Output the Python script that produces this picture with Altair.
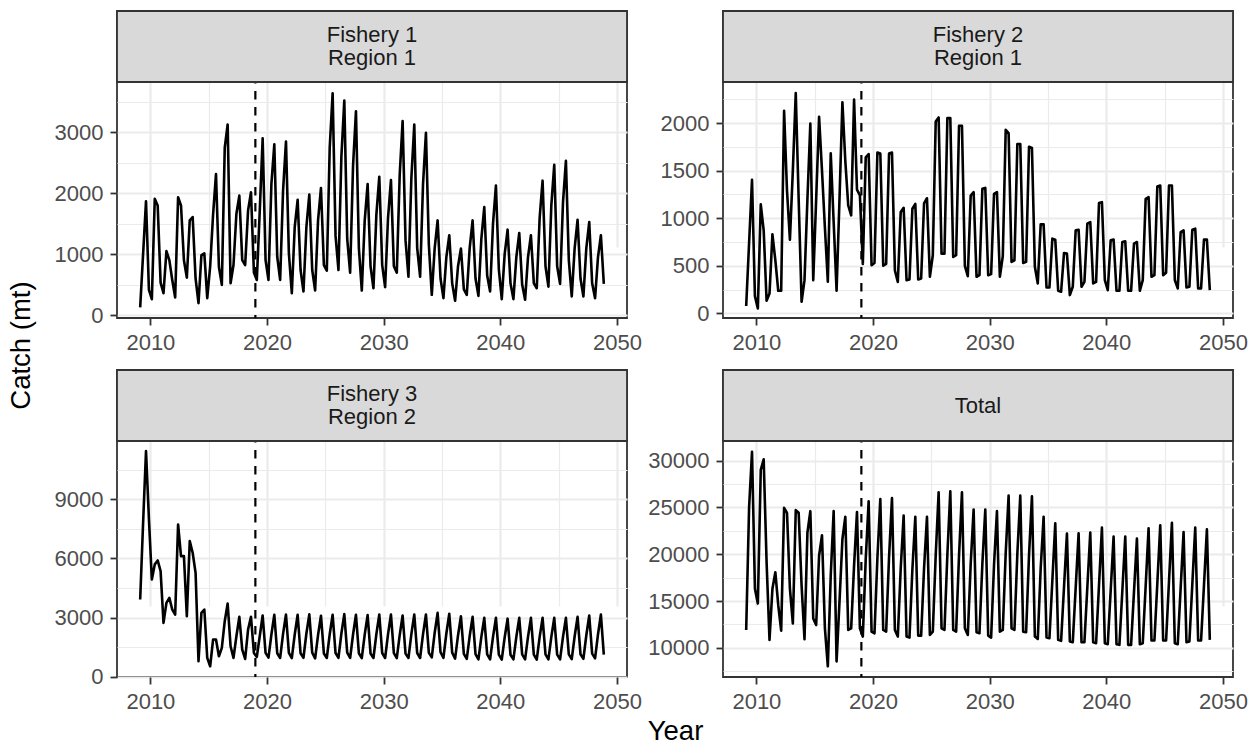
import altair as alt
import pandas as pd

# Quarterly catch (mt), 2009-2048, four values per year (Q1..Q4)
YEARS = list(range(2009, 2049))
QUARTERS = [1, 2, 3, 4]
PROJECTION_START = 2019

FISHERY1 = [
    125, 1000, 1870, 413,
    260, 1908, 1800, 533,
    359, 1049, 902, 576,
    288, 1935, 1800, 900,
    614, 1554, 1609, 600,
    196, 984, 1011, 277,
    800, 1650, 2315, 793,
    495, 2750, 3130, 522,
    821, 1663, 1962, 902,
    821, 1717, 2016, 700,
    576, 1700, 2902, 902,
    576, 2152, 2804, 957,
    576, 2043, 2848, 1011,
    359, 1446, 1891, 739,
    386, 1446, 1978, 739,
    402, 1554, 2087, 821,
    728, 2750, 3641, 1300,
    739, 2600, 3522, 1250,
    696, 2450, 3348, 1100,
    402, 1550, 2152, 800,
    440, 1650, 2272, 820,
    457, 1600, 2217, 800,
    696, 2300, 3185, 1230,
    630, 2250, 3130, 1100,
    630, 2150, 2995, 1150,
    332, 1100, 1554, 600,
    277, 950, 1310, 520,
    234, 800, 1092, 420,
    332, 1100, 1554, 600,
    315, 1250, 1772, 650,
    386, 1500, 2125, 750,
    261, 1000, 1402, 520,
    261, 950, 1348, 500,
    250, 950, 1310, 520,
    440, 1600, 2207, 800,
    467, 1800, 2467, 800,
    511, 1850, 2533, 900,
    304, 1100, 1565, 600,
    304, 1100, 1527, 520,
    277, 950, 1310, 511,
]

FISHERY2 = [
    77, 740, 1403, 181,
    52, 1145, 872, 133,
    209, 830, 558, 237,
    237, 2129, 1290, 775,
    1500, 2317, 1200, 122,
    349, 1200, 1996, 349,
    1200, 2066, 1500, 900,
    332, 1682, 960, 237,
    1200, 2219, 1600, 1134,
    1030, 2247, 1300, 1240,
    520, 1640, 1675, 506,
    530, 1690, 1680, 500,
    520, 1680, 1690, 450,
    330, 1066, 1110, 349,
    356, 1100, 1150, 356,
    366, 1155, 1210, 384,
    611, 2017, 2059, 628,
    628, 2052, 2052, 593,
    611, 1972, 1972, 500,
    390, 1239, 1274, 384,
    401, 1309, 1319, 401,
    412, 1256, 1274, 384,
    600, 1930, 1895, 541,
    558, 1780, 1780, 530,
    541, 1752, 1738, 489,
    314, 935, 935, 272,
    272, 785, 775, 237,
    227, 635, 628, 192,
    279, 873, 879, 279,
    331, 942, 960, 314,
    331, 1159, 1169, 349,
    244, 768, 775, 237,
    237, 750, 757, 237,
    237, 733, 750, 237,
    349, 1204, 1222, 384,
    401, 1333, 1344, 401,
    426, 1344, 1344, 349,
    262, 855, 873, 272,
    279, 879, 890, 262,
    262, 775, 775, 244,
]

FISHERY3 = [
    3921, 7800, 11441, 8000,
    4935, 5700, 5900, 5357,
    2738, 3752, 4005, 3414,
    3160, 7723, 6118, 6118,
    3076, 6878, 6287, 5273,
    794, 3245, 3414, 963,
    541, 1893, 1893, 1048,
    1470, 2822, 3718, 1555,
    963, 2062, 3042, 1386,
    913, 2400, 3042, 1217,
    1014, 2062, 3110, 1217,
    980, 2150, 3150, 1200,
    960, 2180, 3160, 1220,
    950, 2150, 3150, 1200,
    970, 2200, 3170, 1230,
    940, 2120, 3100, 1190,
    960, 2160, 3150, 1210,
    970, 2200, 3180, 1230,
    960, 2150, 3150, 1200,
    950, 2140, 3130, 1190,
    960, 2170, 3160, 1210,
    960, 2170, 3160, 1210,
    950, 2120, 3110, 1180,
    960, 2170, 3160, 1210,
    960, 2170, 3160, 1220,
    990, 2240, 3245, 1250,
    970, 2200, 3200, 1230,
    930, 2100, 3070, 1170,
    910, 2070, 3040, 1150,
    890, 2030, 2990, 1140,
    890, 2030, 2990, 1130,
    880, 2000, 2950, 1120,
    890, 2030, 2990, 1140,
    890, 2030, 2990, 1130,
    880, 2030, 2990, 1140,
    890, 2030, 2990, 1130,
    890, 2030, 2990, 1140,
    900, 2060, 3040, 1150,
    920, 2110, 3110, 1180,
    940, 2150, 3160, 1132,
]

TOTAL = [
    11905, 25000, 30950, 16313,
    14726, 29010, 30139, 19135,
    10846, 16313, 18077, 14550,
    11834, 24955, 24426, 16313,
    12610, 24708, 24426, 16666,
    10917, 22310, 24602, 13139,
    12434, 19840, 22027, 12080,
    8025, 17724, 24602, 8554,
    14903, 21604, 24002, 11905,
    12080, 18782, 24496, 12080,
    11200, 19500, 25660, 11728,
    11552, 19600, 25907, 11905,
    11728, 19700, 26013, 11905,
    11200, 18500, 24143, 11200,
    11093, 18400, 24002, 11305,
    11305, 18500, 24002, 11375,
    11728, 19900, 26612, 12080,
    11905, 20000, 26718, 11905,
    11728, 19900, 26612, 12080,
    11375, 19000, 24778, 11658,
    11552, 19000, 24778, 11305,
    11093, 18900, 24602, 11728,
    11905, 20100, 26259, 12080,
    11905, 20100, 26259, 11728,
    11658, 19900, 26189, 11200,
    10952, 18500, 24002, 11093,
    11023, 17200, 23297, 10846,
    10740, 16500, 22204, 10670,
    10600, 16400, 22239, 10600,
    10600, 16500, 22310, 10600,
    10494, 16700, 22839, 10494,
    10388, 16100, 21886, 10388,
    10317, 16100, 21886, 10317,
    10317, 16000, 21675, 10388,
    10494, 16600, 22768, 10776,
    10776, 16900, 23086, 10776,
    10776, 17100, 23368, 10494,
    10388, 16400, 22380, 10600,
    10670, 16800, 22839, 10776,
    10776, 16700, 22662, 10846,
]

PANEL_LABELS = ["Fishery 1\nRegion 1", "Fishery 2\nRegion 1", "Fishery 3\nRegion 2", "Total"]
SERIES = [FISHERY1, FISHERY2, FISHERY3, TOTAL]

X_DOMAIN = [2007.1375, 2050.8625]
X_TICKS = [2010, 2015, 2020, 2025, 2030, 2035, 2040, 2045, 2050]   # labelled every 10 years
X_STEP = 10

Y_DOMAINS = [[-49, 3828], [-49, 2432], [-4, 11950], [6880, 32100]]
Y_TICKS = [
    [0, 500, 1000, 1500, 2000, 2500, 3000, 3500],
    [0, 250, 500, 750, 1000, 1250, 1500, 1750, 2000, 2250],
    [0, 1500, 3000, 4500, 6000, 7500, 9000, 10500],
    [7500, 10000, 12500, 15000, 17500, 20000, 22500, 25000, 27500, 30000],
]
Y_STEP = [1000, 500, 3000, 5000]   # spacing of labelled (major) ticks

FONT = "Liberation Sans"
W = 510          # panel width
PLOT_H = 236     # data area height
STRIP_H = 71     # facet strip height on top of each panel
H = PLOT_H + STRIP_H
LINE_H = 23
BORDER = "#333333"
GRID = "#EBEBEB"

# mid-quarter time stamps
TIME = [y + (q - 0.5) / 4 for y in YEARS for q in QUARTERS]


def axis_style(step):
    """Major ticks labelled with grid; minor ones only carry a thin grid line."""
    minor = f"datum.value % {step} !== 0"
    return dict(
        grid=True, gridColor=GRID,
        gridWidth={"condition": {"test": minor, "value": 1.2}, "value": 2.2},
        domain=False, ticks=True, tickColor=BORDER, tickWidth=1.8, tickSize=7,
        tickOpacity={"condition": {"test": minor, "value": 0}, "value": 1},
        labelExpr=f"datum.value % {step} === 0 ? datum.label : ''",
        labelFont=FONT, labelFontSize=22, labelColor="#4D4D4D",
        labelPadding=7, labelOverlap=False, labelFlush=False, format="d",
    )


def panel(k, y_title=None, x_title=None):
    df = pd.DataFrame({"year": TIME, "catch": SERIES[k]})
    xs = alt.Scale(domain=X_DOMAIN, nice=False, zero=False)
    # data occupy the area below the strip
    ys = alt.Scale(domain=Y_DOMAINS[k], nice=False, zero=False, range=[H, STRIP_H])

    if x_title:
        x_extra = dict(title=x_title, titleFont=FONT, titleFontSize=27.5,
                       titleFontWeight="normal", titleColor="black",
                       titleX=558, titleY=62, titleAlign="center",
                       titleBaseline="alphabetic")
    else:
        x_extra = dict(title=None)
    if y_title:
        y_extra = dict(title=y_title, titleFont=FONT, titleFontSize=27.5,
                       titleFontWeight="normal", titleColor="black",
                       titleX=-96, titleY=-25, titleAngle=270,
                       titleAlign="center", titleBaseline="middle")
    else:
        y_extra = dict(title=None)

    xaxis = alt.Axis(values=X_TICKS, **axis_style(X_STEP), **x_extra)
    yaxis = alt.Axis(values=Y_TICKS[k], **axis_style(Y_STEP[k]), **y_extra)

    line = (
        alt.Chart(df)
        .mark_line(color="black", strokeWidth=2.6, strokeJoin="round")
        .encode(x=alt.X("year:Q", scale=xs, axis=xaxis),
                y=alt.Y("catch:Q", scale=ys, axis=yaxis))
    )
    vline = (
        alt.Chart(pd.DataFrame({"year": [PROJECTION_START]}))
        .mark_rule(color="black", strokeWidth=2.2, strokeDash=[8.5, 7.5])
        .encode(x=alt.X("year:Q", scale=xs, axis=xaxis))
    )
    label = PANEL_LABELS[k]
    n_lines = label.count("\n") + 1
    label_df = pd.DataFrame({"label": [label]})
    strip_box = (
        alt.Chart(label_df)
        .mark_rect(fill="#D9D9D9", stroke=BORDER, strokeWidth=1.8)
        .encode(x=alt.value(0), x2=alt.value(W), y=alt.value(0), y2=alt.value(STRIP_H))
    )
    strip_text = (
        alt.Chart(label_df)
        .mark_text(font=FONT, fontSize=22, color="#1A1A1A", lineBreak="\n",
                   lineHeight=LINE_H, baseline="middle", align="center",
                   dy=-(n_lines - 1) * LINE_H / 2)
        .encode(text="label:N", x=alt.value(W / 2), y=alt.value(STRIP_H / 2))
    )
    return alt.layer(line, vline, strip_box, strip_text).properties(
        width=W, height=H,
        view=alt.ViewBackground(fill="white", stroke=BORDER, strokeWidth=1.8),
    )


chart = (
    alt.concat(
        panel(0), panel(1),
        panel(2, y_title="Catch (mt)", x_title="Year"), panel(3),
        columns=2, spacing={"row": 52, "column": 96}, bounds="flush",
    )
    .properties(padding={"left": 6, "top": 9, "right": 0, "bottom": 0},
                background="white")
    .configure(font=FONT)
)

chart.save("out.html", embed_options={"renderer": "svg", "actions": False})
